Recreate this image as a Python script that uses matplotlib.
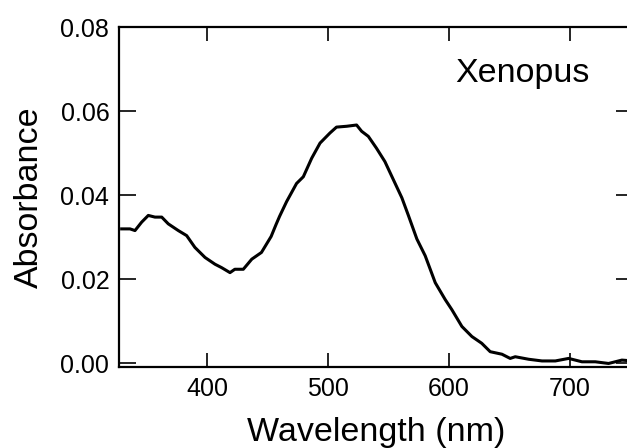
import matplotlib.pyplot as plt

# Absorbance spectrum
wavelength = [329.5, 336.4, 340.5, 346, 351.5, 357, 362.6, 368, 376.3, 383.2,
              390, 398.4, 406.6, 412, 419, 423, 430, 437, 445, 453,
              457, 460, 465.8, 474, 479.6, 486.5, 493.4, 501.6, 507, 515.4,
              523.6, 527.8, 533.3, 540, 547, 553.5, 561, 566.4, 573.4, 580.3,
              588.6, 596.8, 602.3, 610.6, 618.9, 627, 634, 643.7, 650.5, 654.7,
              665.8, 676.8, 687.8, 698.8, 709.8, 720.8, 731.8, 742.8, 752]
absorbance = [0.0320, 0.0320, 0.0316, 0.0336, 0.0352, 0.0348, 0.0348, 0.0332, 0.0316, 0.0304,
              0.0276, 0.0252, 0.0236, 0.0228, 0.0216, 0.0224, 0.0224, 0.0248, 0.0264, 0.0302,
              0.0330, 0.0350, 0.0385, 0.0428, 0.0444, 0.0488, 0.0524, 0.0548, 0.0562, 0.0564,
              0.0567, 0.0552, 0.0540, 0.0512, 0.0480, 0.0440, 0.0394, 0.0352, 0.0296, 0.0256,
              0.0192, 0.0152, 0.0128, 0.0088, 0.0064, 0.0048, 0.0028, 0.0022, 0.0012, 0.0016,
              0.0010, 0.0006, 0.0006, 0.0012, 0.0004, 0.0004, 0.0000, 0.0008, 0.0006]

x_ticks = [400, 500, 600, 700]
y_ticks = [0.00, 0.02, 0.04, 0.06, 0.08]

plt.rcParams['font.family'] = ['Liberation Sans', 'DejaVu Sans']

fig = plt.figure(figsize=(6.27, 4.48), dpi=100)
ax = fig.add_axes([0.1898, 0.1808, 0.8198, 0.7589])

ax.plot(wavelength, absorbance, color="black", lw=2.2)

ax.set_xlim(327.3, 752)
ax.set_ylim(-0.00084, 0.08)
ax.set_xticks(x_ticks)
ax.set_yticks(y_ticks)
ax.set_yticklabels([f"{v:.2f}" for v in y_ticks])

ax.tick_params(axis="x", direction="in", length=10, width=1.2, labelsize=18,
               pad=7, top=True)
ax.tick_params(axis="y", direction="in", length=12, width=1.2, labelsize=18,
               pad=7, right=True)
for sp in ax.spines.values():
    sp.set_linewidth(1.6)

ax.set_xlabel("Wavelength (nm)", fontsize=24.5, labelpad=12)
ax.set_ylabel("Absorbance", fontsize=24.5, labelpad=11)

ax.text(661, 0.069, "Xenopus", fontsize=24.5, ha="center", va="center")

fig.savefig("out.png", dpi=100)
